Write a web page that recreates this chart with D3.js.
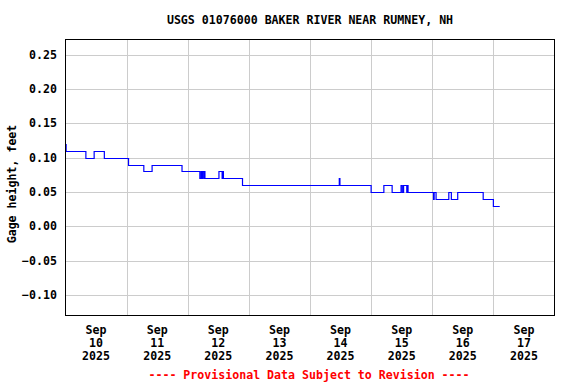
<!DOCTYPE html>
<html>
<head>
<meta charset="utf-8">
<script src="https://cdn.jsdelivr.net/npm/d3@7"></script>
<style>
  body { margin: 0; background: #fff; }
  text { font-family: 'DejaVu Sans Mono', 'Liberation Mono', monospace; font-weight: bold; }
</style>
</head>
<body>
<div id="chart"></div>
<script>
// gage height readings, only the points where the value changes
var times = [
  "2025-09-10 00:00", "2025-09-10 00:15", "2025-09-10 08:00", "2025-09-10 11:15", "2025-09-10 15:15",
  "2025-09-11 00:45", "2025-09-11 06:45", "2025-09-11 10:00", "2025-09-11 21:45",
  "2025-09-12 04:45", "2025-09-12 05:15", "2025-09-12 05:30", "2025-09-12 05:45", "2025-09-12 06:15",
  "2025-09-12 06:30", "2025-09-12 06:45", "2025-09-12 12:15", "2025-09-12 13:30", "2025-09-12 13:45",
  "2025-09-12 14:00", "2025-09-12 21:30",
  "2025-09-14 11:30", "2025-09-14 11:45",
  "2025-09-15 00:00", "2025-09-15 05:00", "2025-09-15 08:15", "2025-09-15 11:45", "2025-09-15 12:15",
  "2025-09-15 12:45", "2025-09-15 14:00", "2025-09-15 14:15", "2025-09-15 14:30",
  "2025-09-16 00:30", "2025-09-16 00:45", "2025-09-16 01:30", "2025-09-16 06:30", "2025-09-16 07:30",
  "2025-09-16 10:00", "2025-09-16 20:00",
  "2025-09-17 00:00", "2025-09-17 02:30"
];
var values = [
  0.12, 0.11, 0.10, 0.11, 0.10,
  0.09, 0.08, 0.09, 0.08,
  0.07, 0.08, 0.07, 0.08, 0.07,
  0.08, 0.07, 0.08, 0.07, 0.08,
  0.07, 0.06,
  0.07, 0.06,
  0.05, 0.06, 0.05, 0.06, 0.05,
  0.06, 0.05, 0.06, 0.05,
  0.04, 0.05, 0.04, 0.05, 0.04,
  0.05, 0.04,
  0.03, 0.03
];
var yTicks = [-0.10, -0.05, 0.00, 0.05, 0.10, 0.15, 0.20, 0.25];
var dayLabels = ["10", "11", "12", "13", "14", "15", "16", "17"];

var title = "USGS 01076000 BAKER RIVER NEAR RUMNEY, NH";
var yTitle = "Gage height, feet";
var footer = "---- Provisional Data Subject to Revision ----";

var width = 576, height = 384;
var mLeft = 65.5, mRight = 554.5, mTop = 39.5, mBottom = 315.5;
var fs = "11.6px";

var parse = d3.utcParse("%Y-%m-%d %H:%M");
var data = times.map(function(t, i) { return { t: parse(t), v: values[i] }; });

var x = d3.scaleUtc()
  .domain([parse("2025-09-10 00:00"), parse("2025-09-18 00:00")])
  .range([mLeft, mRight]);
var y = d3.scaleLinear()
  .domain([-0.1297, 0.2719])
  .range([mBottom, mTop]);

var svg = d3.select("#chart").append("svg")
  .attr("width", width)
  .attr("height", height);

// grid
var days = d3.utcDay.range(parse("2025-09-11 00:00"), parse("2025-09-18 00:00"));
svg.selectAll("line.vgrid")
  .data(days)
  .enter()
  .append("line")
  .attr("class", "vgrid")
  .attr("x1", function(d) { return Math.round(x(d)) + 0.5; })
  .attr("x2", function(d) { return Math.round(x(d)) + 0.5; })
  .attr("y1", mTop)
  .attr("y2", mBottom)
  .attr("stroke", "#cccccc");

svg.selectAll("line.hgrid")
  .data(yTicks)
  .enter()
  .append("line")
  .attr("class", "hgrid")
  .attr("x1", mLeft)
  .attr("x2", mRight)
  .attr("y1", function(d) { return Math.round(y(d)) + 0.5; })
  .attr("y2", function(d) { return Math.round(y(d)) + 0.5; })
  .attr("stroke", "#cccccc");

// data line
var line = d3.line()
  .x(function(d) { return x(d.t); })
  .y(function(d) { return Math.round(y(d.v)) + 0.5; })
  .curve(d3.curveStepAfter);

svg.append("path")
  .datum(data)
  .attr("d", line)
  .attr("fill", "none")
  .attr("stroke", "#0000ff")
  .attr("stroke-width", 1.2);

// frame
svg.append("rect")
  .attr("x", mLeft)
  .attr("y", mTop)
  .attr("width", mRight - mLeft)
  .attr("height", mBottom - mTop)
  .attr("fill", "none")
  .attr("stroke", "#000");

// y labels
svg.selectAll("text.ylab")
  .data(yTicks)
  .enter()
  .append("text")
  .attr("class", "ylab")
  .attr("x", 57)
  .attr("y", function(d) { return y(d); })
  .attr("dy", "0.35em")
  .attr("text-anchor", "end")
  .style("font-size", fs)
  .text(function(d) { return d3.format(".2f")(d); });

// x labels, centred at noon of each day
var xg = svg.selectAll("g.xlab")
  .data(dayLabels)
  .enter()
  .append("g")
  .attr("class", "xlab")
  .attr("transform", function(d) {
    return "translate(" + x(parse("2025-09-" + d + " 12:00")) + ",0)";
  });
xg.append("text").attr("y", 330).attr("dy", "0.35em").attr("text-anchor", "middle")
  .style("font-size", fs).text("Sep");
xg.append("text").attr("y", 343).attr("dy", "0.35em").attr("text-anchor", "middle")
  .style("font-size", fs).text(function(d) { return d; });
xg.append("text").attr("y", 356).attr("dy", "0.35em").attr("text-anchor", "middle")
  .style("font-size", fs).text("2025");

// titles
svg.append("text")
  .attr("x", (mLeft + mRight) / 2)
  .attr("y", 20)
  .attr("dy", "0.35em")
  .attr("text-anchor", "middle")
  .style("font-size", fs)
  .text(title);

svg.append("text")
  .attr("transform", "translate(12,184) rotate(-90)")
  .attr("dy", "0.35em")
  .attr("text-anchor", "middle")
  .style("font-size", fs)
  .text(yTitle);

svg.append("text")
  .attr("x", (mLeft + mRight) / 2 - 1)
  .attr("y", 375)
  .attr("dy", "0.35em")
  .attr("text-anchor", "middle")
  .attr("fill", "#ff0000")
  .style("font-size", fs)
  .text(footer);
</script>
</body>
</html>
